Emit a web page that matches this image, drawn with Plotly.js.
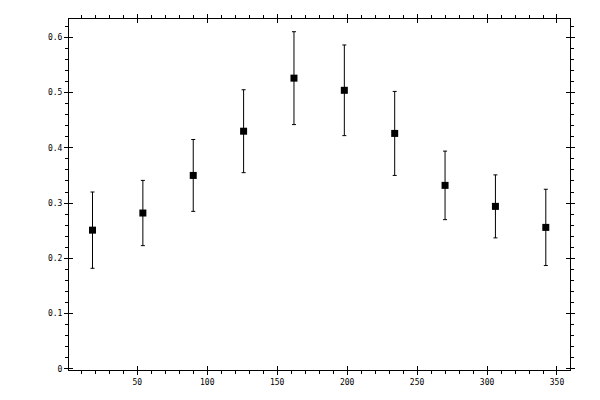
<!DOCTYPE html>
<html>
<head>
<meta charset="utf-8">
<script src="https://cdn.plot.ly/plotly-3.0.1.min.js"></script>
<style>
  html, body { margin: 0; padding: 0; background: #fff; }
  #chart { width: 600px; height: 400px; }
</style>
</head>
<body>
<div id="chart"></div>
<script>
// bin centres (degrees) and measured values with symmetric errors
const angles = [18, 54, 90, 126, 162, 198, 234, 270, 306, 342];
const values = [0.251, 0.282, 0.350, 0.430, 0.526, 0.504, 0.426, 0.332, 0.294, 0.256];
const errors = [0.069, 0.059, 0.065, 0.075, 0.084, 0.082, 0.076, 0.062, 0.057, 0.069];

const xRange = [1.2, 359.3];
const yRange = [-0.002, 0.633];

const tickFont = {family: 'DejaVu Sans Mono', size: 8, color: '#000'};

const points = {
    x: angles,
    y: values,
    mode: 'markers',
    type: 'scatter',
    marker: {symbol: 'square', size: 7, color: '#000'},
    error_y: {type: 'data', array: errors, visible: true, color: '#000', thickness: 1, width: 2},
    showlegend: false,
    hoverinfo: 'skip'
};

// invisible copy so the overlaid axes (inner half of the major ticks) get drawn
const ghost = {
    x: angles,
    y: values,
    xaxis: 'x2',
    yaxis: 'y2',
    mode: 'markers',
    marker: {opacity: 0},
    showlegend: false,
    hoverinfo: 'skip'
};

const layout = {
    width: 600,
    height: 400,
    margin: {l: 69, r: 30, t: 19, b: 30},
    paper_bgcolor: '#fff',
    plot_bgcolor: '#fff',
    xaxis: {
        range: xRange,
        tick0: 0, dtick: 50,
        ticks: 'outside', ticklen: 4, tickwidth: 1, tickcolor: '#000',
        minor: {ticks: 'outside', ticklen: 3, dtick: 10, tick0: 0, tickcolor: '#000', tickwidth: 1},
        showline: true, linecolor: '#000', linewidth: 1, mirror: 'allticks',
        showgrid: false, zeroline: false,
        tickfont: tickFont
    },
    yaxis: {
        range: yRange,
        tick0: 0, dtick: 0.1,
        ticks: 'outside', ticklen: 4, tickwidth: 1, tickcolor: '#000',
        minor: {ticks: 'outside', ticklen: 3, dtick: 0.02, tick0: 0, tickcolor: '#000', tickwidth: 1},
        showline: true, linecolor: '#000', linewidth: 1, mirror: 'allticks',
        showgrid: false, zeroline: false,
        tickfont: tickFont
    },
    xaxis2: {
        overlaying: 'x', anchor: 'y2',
        range: xRange,
        tick0: 0, dtick: 50,
        ticks: 'inside', ticklen: 4, tickwidth: 1, tickcolor: '#000',
        mirror: 'ticks', showline: false, showticklabels: false,
        showgrid: false, zeroline: false
    },
    yaxis2: {
        overlaying: 'y', anchor: 'x2',
        range: yRange,
        tick0: 0, dtick: 0.1,
        ticks: 'inside', ticklen: 4, tickwidth: 1, tickcolor: '#000',
        mirror: 'ticks', showline: false, showticklabels: false,
        showgrid: false, zeroline: false
    }
};

Plotly.newPlot('chart', [points, ghost], layout, {staticPlot: true, displayModeBar: false});
</script>
</body>
</html>
